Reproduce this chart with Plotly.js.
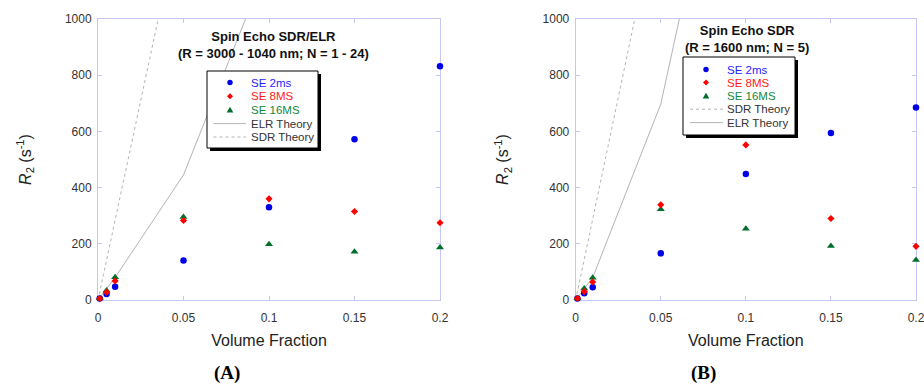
<!DOCTYPE html>
<html>
<head>
<meta charset="utf-8">
<script src="https://cdn.plot.ly/plotly-3.0.1.min.js"></script>
<style>
  html, body { margin: 0; padding: 0; background: #fff; }
  #chart { width: 924px; height: 385px; }
</style>
</head>
<body>
<div id="chart"></div>
<script>
// Volume fractions at which R2 was measured
const volFrac = [0.001, 0.005, 0.01, 0.05, 0.1, 0.15, 0.2];

// Panel A: Spin Echo SDR/ELR (R = 3000 - 1040 nm; N = 1 - 24)
const aSE2ms  = [5, 21, 47, 141, 330, 572, 832];
const aSE8ms  = [5, 28, 68, 283, 360, 315, 275];
const aSE16ms = [6, 34, 81, 295, 198, 172, 187];
const aElrX = [0, 0.01, 0.05, 0.1];
const aElrY = [0, 80, 445, 1210];
const aSdrX = [0, 0.01, 0.05];
const aSdrY = [0, 284, 1420];

// Panel B: Spin Echo SDR (R = 1600 nm; N = 5)
const bSE2ms  = [5, 24, 45, 166, 448, 594, 685];
const bSE8ms  = [6, 30, 64, 339, 552, 290, 191];
const bSE16ms = [6, 41, 79, 323, 254, 192, 142];
const bElrX = [0, 0.01, 0.05, 0.1];
const bElrY = [0, 80, 697, 2087];
const bSdrX = [0, 0.01, 0.05];
const bSdrY = [0, 288, 1440];

const xTicks = [0, 0.05, 0.1, 0.15, 0.2];
const xTickText = ['0', '0.05', '0.1', '0.15', '0.2'];
const yTicks = [0, 200, 400, 600, 800, 1000];

const seriesNames = ['SE 2ms', 'SE 8MS', 'SE 16MS'];

const BLUE = '#0000e8', RED = '#ff0000', GREEN = '#006e2c';
const THEORY = '#b4b4b4';
const FRAME = '#c6c6f2';

function theory(x, y, dash, xa, ya, name) {
  return { x: x, y: y, xaxis: xa, yaxis: ya, type: 'scatter', mode: 'lines', name: name,
           line: { color: THEORY, width: 1, dash: dash }, showlegend: false, hoverinfo: 'skip' };
}
function pts(y, color, symbol, size, xa, ya, name) {
  return { x: volFrac, y: y, xaxis: xa, yaxis: ya, type: 'scatter', mode: 'markers', name: name,
           marker: { color: color, symbol: symbol, size: size, line: { width: 0 } },
           showlegend: false, cliponaxis: false };
}

const data = [
  theory(aSdrX, aSdrY, '3px,3px', 'x', 'y', 'SDR Theory'),
  theory(aElrX, aElrY, 'solid', 'x', 'y', 'ELR Theory'),
  pts(aSE2ms, BLUE, 'circle', 6.5, 'x', 'y', seriesNames[0]),
  pts(aSE16ms, GREEN, 'triangle-up', 7, 'x', 'y', seriesNames[2]),
  pts(aSE8ms, RED, 'diamond', 5.5, 'x', 'y', seriesNames[1]),

  theory(bSdrX, bSdrY, '3px,3px', 'x2', 'y2', 'SDR Theory'),
  theory(bElrX, bElrY, 'solid', 'x2', 'y2', 'ELR Theory'),
  pts(bSE2ms, BLUE, 'circle', 6.5, 'x2', 'y2', seriesNames[0]),
  pts(bSE16ms, GREEN, 'triangle-up', 7, 'x2', 'y2', seriesNames[2]),
  pts(bSE8ms, RED, 'diamond', 5.5, 'x2', 'y2', seriesNames[1])
];

// page geometry helpers (pixel -> paper fraction)
const W = 924, H = 385;
const fx = p => p / W;
const fy = p => 1 - p / H;

const tickFont = { family: 'Liberation Sans, Arial, sans-serif', size: 12, color: '#333' };
const titleFont = { family: 'Liberation Sans, Arial, sans-serif', size: 16, color: '#222' };

function xAxis(domain, anchor) {
  return {
    domain: domain, anchor: anchor, range: [0, 0.2], tickvals: xTicks, ticktext: xTickText,
    showgrid: false, zeroline: false, showline: true, linecolor: FRAME, linewidth: 1,
    mirror: 'ticks', ticks: 'inside', ticklen: 4, tickcolor: FRAME, tickfont: tickFont,
    ticklabelstandoff: 7, ticklabeloverflow: 'allow', layer: 'below traces',
    title: { text: 'Volume Fraction', font: titleFont, standoff: 10 }, fixedrange: true
  };
}
function yAxis(domain, anchor) {
  return {
    domain: domain, anchor: anchor, range: [0, 1000], tickvals: yTicks,
    showgrid: false, zeroline: false, showline: true, linecolor: FRAME, linewidth: 1,
    mirror: 'ticks', ticks: 'inside', ticklen: 4, tickcolor: FRAME, tickfont: tickFont,
    ticklabelstandoff: 3, ticklabeloverflow: 'allow', layer: 'below traces',
    title: { text: '<i>R</i><sub>2</sub> (s<sup>-1</sup>)', font: titleFont, standoff: 29 },
    fixedrange: true
  };
}

const shapes = [];
const annotations = [];

// hand-drawn legend box with drop shadow
function legendBox(x0, y0, x1, y1, rows) {
  shapes.push({ type: 'rect', xref: 'paper', yref: 'paper', x0: fx(x0 + 3), x1: fx(x1 + 3),
                y0: fy(y0 + 3), y1: fy(y1 + 3), fillcolor: '#000', line: { width: 0 }, layer: 'above' });
  shapes.push({ type: 'rect', xref: 'paper', yref: 'paper', x0: fx(x0), x1: fx(x1),
                y0: fy(y0), y1: fy(y1), fillcolor: '#fff', line: { color: '#000', width: 1 }, layer: 'above' });
  rows.forEach(r => {
    const cy = r.y;
    if (r.kind === 'circle') {
      shapes.push({ type: 'circle', xref: 'paper', yref: 'paper', x0: fx(r.sx - 2.7), x1: fx(r.sx + 2.7),
                    y0: fy(cy + 2.7), y1: fy(cy - 2.7), fillcolor: r.color, line: { width: 0 }, layer: 'above' });
    } else if (r.kind === 'diamond') {
      const p = `M${fx(r.sx)},${fy(cy - 3)} L${fx(r.sx + 3)},${fy(cy)} L${fx(r.sx)},${fy(cy + 3)} L${fx(r.sx - 3)},${fy(cy)} Z`;
      shapes.push({ type: 'path', xref: 'paper', yref: 'paper', path: p, fillcolor: r.color, line: { width: 0 }, layer: 'above' });
    } else if (r.kind === 'triangle') {
      const p = `M${fx(r.sx)},${fy(cy - 3.2)} L${fx(r.sx + 3.3)},${fy(cy + 2.6)} L${fx(r.sx - 3.3)},${fy(cy + 2.6)} Z`;
      shapes.push({ type: 'path', xref: 'paper', yref: 'paper', path: p, fillcolor: r.color, line: { width: 0 }, layer: 'above' });
    } else {
      shapes.push({ type: 'line', xref: 'paper', yref: 'paper', x0: fx(r.lx0), x1: fx(r.lx1),
                    y0: fy(cy), y1: fy(cy), line: { color: THEORY, width: 1, dash: r.kind === 'dash' ? '3px,3px' : 'solid' }, layer: 'above' });
    }
    annotations.push({ xref: 'paper', yref: 'paper', x: fx(r.tx), y: fy(cy), xanchor: 'left', yanchor: 'middle',
                       text: r.text, showarrow: false,
                       font: { family: 'Liberation Sans, Arial, sans-serif', size: 11.5, color: r.tcolor } });
  });
}

legendBox(207, 71, 318, 148, [
  { kind: 'circle', sx: 230, tx: 249, y: 82.5, color: BLUE, tcolor: '#2424ff', text: seriesNames[0] },
  { kind: 'diamond', sx: 230, tx: 249, y: 96.3, color: RED, tcolor: '#ff1a1a', text: seriesNames[1] },
  { kind: 'triangle', sx: 230, tx: 249, y: 110, color: GREEN, tcolor: '#108a3c', text: seriesNames[2] },
  { kind: 'solid', lx0: 213.5, lx1: 246, tx: 249, y: 123.6, tcolor: '#333', text: 'ELR Theory' },
  { kind: 'dash', lx0: 213.5, lx1: 246, tx: 249, y: 137, tcolor: '#333', text: 'SDR Theory' }
]);
legendBox(683, 57, 795, 135, [
  { kind: 'circle', sx: 706, tx: 725, y: 69.5, color: BLUE, tcolor: '#2424ff', text: seriesNames[0] },
  { kind: 'diamond', sx: 706, tx: 725, y: 82.5, color: RED, tcolor: '#ff1a1a', text: seriesNames[1] },
  { kind: 'triangle', sx: 706, tx: 725, y: 96, color: GREEN, tcolor: '#108a3c', text: seriesNames[2] },
  { kind: 'dash', lx0: 690, lx1: 723, tx: 725, y: 109.2, tcolor: '#333', text: 'SDR Theory' },
  { kind: 'solid', lx0: 690, lx1: 723, tx: 725, y: 122.6, tcolor: '#333', text: 'ELR Theory' }
]);

// panel headings
const headFont = { family: 'Liberation Sans, Arial, sans-serif', size: 13, color: '#111' };
annotations.push({ xref: 'paper', yref: 'paper', x: fx(273), y: fy(45), xanchor: 'center', yanchor: 'middle',
  showarrow: false, font: headFont, text: '<b>Spin Echo SDR/ELR</b><br><b>(R = 3000 - 1040 nm; N = 1 - 24)</b>' });
annotations.push({ xref: 'paper', yref: 'paper', x: fx(747), y: fy(39), xanchor: 'center', yanchor: 'middle',
  showarrow: false, font: headFont, text: '<b>Spin Echo SDR</b><br><b>(R = 1600 nm; N = 5)</b>' });

// panel letters
const letterFont = { family: 'Liberation Serif, Times New Roman, serif', size: 19, color: '#000' };
annotations.push({ xref: 'paper', yref: 'paper', x: fx(227), y: fy(373), xanchor: 'center', yanchor: 'middle',
  showarrow: false, font: letterFont, text: '<b>(A)</b>' });
annotations.push({ xref: 'paper', yref: 'paper', x: fx(703), y: fy(373), xanchor: 'center', yanchor: 'middle',
  showarrow: false, font: letterFont, text: '<b>(B)</b>' });

const yDom = [fy(300), fy(19)];
const layout = {
  width: W, height: H,
  margin: { l: 0, r: 0, t: 0, b: 0 },
  paper_bgcolor: '#fff', plot_bgcolor: '#fff',
  showlegend: false,
  xaxis: xAxis([fx(98), fx(440)], 'y'),
  yaxis: yAxis(yDom, 'x'),
  xaxis2: xAxis([fx(575.7), fx(916)], 'y2'),
  yaxis2: yAxis(yDom, 'x2'),
  shapes: shapes,
  annotations: annotations
};

Plotly.newPlot('chart', data, layout, { displayModeBar: false, staticPlot: true });
</script>
</body>
</html>
